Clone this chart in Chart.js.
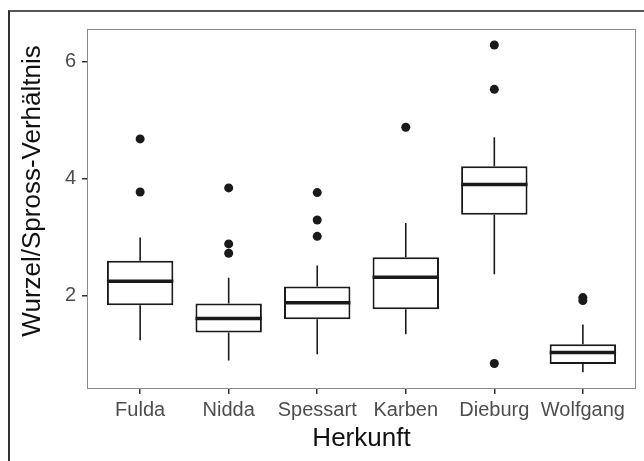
<!DOCTYPE html>
<html>
<head>
<meta charset="utf-8">
<script src="https://cdn.jsdelivr.net/npm/chart.js@4/dist/chart.umd.min.js"></script>
<style>
  html, body { margin: 0; padding: 0; background: #fff; }
  #wrap { position: relative; width: 644px; height: 461px; overflow: hidden; }
  #frame { position: absolute; left: 8px; top: 10px; width: 700px; height: 500px;
           border-left: 2px solid #333; border-top: 2px solid #555; }
  #chart { position: absolute; left: 0; top: 0; }
</style>
</head>
<body>
<div id="wrap">
  <div id="frame"></div>
  <canvas id="chart" width="644" height="461"></canvas>
</div>
<script>
const categories = ["Fulda", "Nidda", "Spessart", "Karben", "Dieburg", "Wolfgang"];
const whiskerLow = [1.23, 0.88, 0.99, 1.33, 2.36, 0.68];
const q1 = [1.83, 1.36, 1.59, 1.76, 3.38, 0.82];
const median = [2.24, 1.60, 1.87, 2.31, 3.90, 1.02];
const q3 = [2.59, 1.86, 2.15, 2.65, 4.21, 1.16];
const whiskerHigh = [2.99, 2.30, 2.51, 3.24, 4.71, 1.50];
const outliers = [
  [4.68, 3.77],
  [3.84, 2.88, 2.72],
  [3.76, 3.29, 3.01],
  [4.88],
  [6.29, 5.53, 0.83],
  [1.96, 1.91],
];
const yTicks = [2, 4, 6];

Chart.defaults.font.family = "'Liberation Sans', Arial, sans-serif";

const ink = "#1a1a1a";

// whiskers under the boxes, medians on top
const boxParts = {
  id: "boxParts",
  beforeDatasetsDraw(chart) {
    const { ctx, scales: { x, y } } = chart;
    ctx.save();
    ctx.strokeStyle = ink;
    ctx.lineWidth = 1.6;
    categories.forEach((c, i) => {
      const px = x.getPixelForValue(i + 1);
      ctx.beginPath();
      ctx.moveTo(px, y.getPixelForValue(whiskerHigh[i]));
      ctx.lineTo(px, y.getPixelForValue(q3[i]));
      ctx.moveTo(px, y.getPixelForValue(q1[i]));
      ctx.lineTo(px, y.getPixelForValue(whiskerLow[i]));
      ctx.stroke();
    });
    ctx.restore();
  },
  afterDatasetsDraw(chart) {
    const { ctx, scales: { x, y }, chartArea } = chart;
    const bars = chart.getDatasetMeta(0).data;
    ctx.save();
    ctx.strokeStyle = ink;
    ctx.lineWidth = 3.5;
    categories.forEach((c, i) => {
      const px = x.getPixelForValue(i + 1);
      const half = bars[i].width / 2;
      const py = y.getPixelForValue(median[i]);
      ctx.beginPath();
      ctx.moveTo(px - half, py);
      ctx.lineTo(px + half, py);
      ctx.stroke();
    });
    // panel border
    ctx.strokeStyle = "#8a8a8a";
    ctx.lineWidth = 1;
    ctx.strokeRect(chartArea.left + 0.5, chartArea.top + 0.5,
      chartArea.right - chartArea.left - 1, chartArea.bottom - chartArea.top - 1);
    ctx.restore();
  },
};

const outlierPoints = [];
outliers.forEach((list, i) => list.forEach((v) => outlierPoints.push({ x: i + 1, y: v })));

new Chart(document.getElementById("chart"), {
  type: "bar",
  data: {
    datasets: [
      {
        type: "bar",
        data: categories.map((c, i) => ({ x: i + 1, y: [q1[i], q3[i]] })),
        backgroundColor: "#ffffff",
        borderColor: ink,
        borderWidth: 2,
        borderSkipped: false,
        categoryPercentage: 1,
        barPercentage: 0.75,
        order: 2,
      },
      {
        type: "scatter",
        data: outlierPoints,
        backgroundColor: ink,
        borderColor: ink,
        pointRadius: 4.5,
        borderWidth: 0,
        order: 1,
      },
    ],
  },
  options: {
    responsive: false,
    animation: false,
    layout: { padding: { top: 29, right: 8, left: 0, bottom: 0 } },
    plugins: { legend: { display: false }, tooltip: { enabled: false } },
    scales: {
      x: {
        type: "linear",
        offset: false,
        min: 0.4,
        max: 6.6,
        afterBuildTicks: (s) => { s.ticks = categories.map((c, i) => ({ value: i + 1 })); },
        afterFit: (s) => { s.height = 72; },
        ticks: {
          callback: (v) => categories[v - 1],
          autoSkip: false,
          maxRotation: 0,
          color: "#4d4d4d",
          font: { size: 20 },
          padding: 4,
        },
        grid: { offset: false, drawOnChartArea: false, drawTicks: true, tickLength: 5, color: "#333", lineWidth: 1.5 },
        border: { display: false },
        title: { display: true, text: "Herkunft", color: "#111", font: { size: 26 }, padding: { top: 0, bottom: 7 } },
      },
      y: {
        min: 0.393,
        max: 6.564,
        afterBuildTicks: (s) => { s.ticks = yTicks.map((v) => ({ value: v })); },
        afterFit: (s) => { s.width = 87; },
        ticks: { color: "#4d4d4d", font: { size: 20 }, padding: 6 },
        grid: { drawOnChartArea: false, drawTicks: true, tickLength: 5, color: "#333", lineWidth: 1.5 },
        border: { display: false },
        title: { display: true, text: "     Wurzel/Spross-Verhältnis", color: "#111", font: { size: 26 }, padding: { top: 17, bottom: 0 } },
      },
    },
  },
  plugins: [boxParts],
});
</script>
</body>
</html>
